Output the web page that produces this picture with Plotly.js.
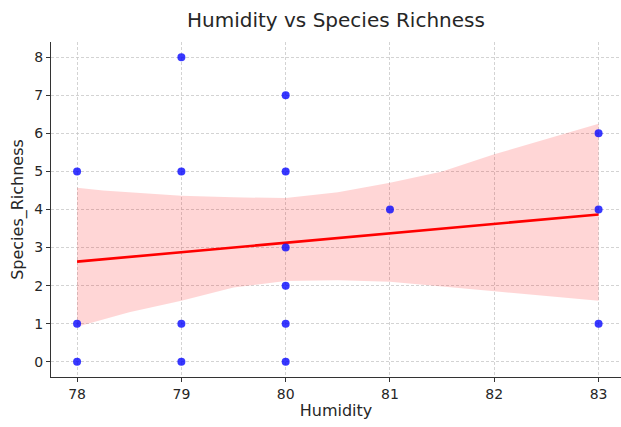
<!DOCTYPE html>
<html>
<head>
<meta charset="utf-8">
<script src="https://cdn.plot.ly/plotly-3.0.1.min.js"></script>
<style>
  html, body { margin: 0; padding: 0; background: #fff; }
  #chart { width: 621px; height: 427px; }
</style>
</head>
<body>
<div id="chart"></div>
<script>
// Observations: humidity vs number of species recorded
const humidity = [78, 78, 78, 79, 79, 79, 79, 80, 80, 80, 80, 80, 80, 81, 83, 83, 83];
const richness = [0, 1, 5, 0, 1, 5, 8, 0, 1, 2, 3, 5, 7, 4, 1, 4, 6];

// Fitted regression line (endpoints)
const fitX = [78, 83];
const fitY = [2.63, 3.87];

// Confidence band around the fit
const bandX = [78, 78.25, 78.5, 79, 79.5, 80, 80.5, 81, 81.5, 82, 82.5, 83];
const bandUpper = [4.57, 4.50, 4.45, 4.36, 4.32, 4.30, 4.45, 4.70, 5.00, 5.45, 5.85, 6.25];
const bandLower = [0.92, 1.10, 1.30, 1.60, 1.95, 2.12, 2.14, 2.10, 1.98, 1.85, 1.72, 1.60];

const xTicks = [78, 79, 80, 81, 82, 83];
const yTicks = [0, 1, 2, 3, 4, 5, 6, 7, 8];

const traces = [
  {
    x: bandX.concat(bandX.slice().reverse()),
    y: bandUpper.concat(bandLower.slice().reverse()),
    type: 'scatter', mode: 'lines', fill: 'toself',
    fillcolor: 'rgba(255,0,0,0.16)', line: { width: 0 },
    hoverinfo: 'skip', showlegend: false
  },
  {
    x: fitX, y: fitY, type: 'scatter', mode: 'lines',
    line: { color: '#ff0000', width: 2.6 }, showlegend: false
  },
  {
    x: humidity, y: richness, type: 'scatter', mode: 'markers',
    marker: { color: 'rgba(0,0,255,0.78)', size: 8 }, showlegend: false
  }
];

const axisCommon = {
  showline: true, linecolor: '#333', linewidth: 1, mirror: false,
  ticks: 'outside', ticklen: 4, tickcolor: '#333', tickwidth: 1,
  showgrid: true, gridcolor: '#c8c8c8', gridwidth: 0.8, griddash: '3px,2px',
  zeroline: false,
  tickfont: { family: 'DejaVu Sans', size: 14, color: '#262626' }
};

const layout = {
  width: 621, height: 427,
  margin: { l: 51, r: 0, t: 42, b: 50 },
  paper_bgcolor: '#fff', plot_bgcolor: '#fff',
  title: {
    text: 'Humidity vs Species Richness',
    font: { family: 'DejaVu Sans', size: 20, color: '#262626' },
    x: 0.541, xanchor: 'center', y: 0.953, yanchor: 'middle'
  },
  xaxis: Object.assign({}, axisCommon, {
    range: [77.75, 83.215], tickvals: xTicks,
    title: { text: 'Humidity', font: { family: 'DejaVu Sans', size: 16, color: '#262626' }, standoff: 4 }
  }),
  yaxis: Object.assign({}, axisCommon, {
    range: [-0.4, 8.4], tickvals: yTicks,
    title: { text: 'Species_Richness', font: { family: 'DejaVu Sans', size: 16, color: '#262626' }, standoff: 6 }
  })
};

Plotly.newPlot('chart', traces, layout, { displayModeBar: false, staticPlot: true });
</script>
</body>
</html>
